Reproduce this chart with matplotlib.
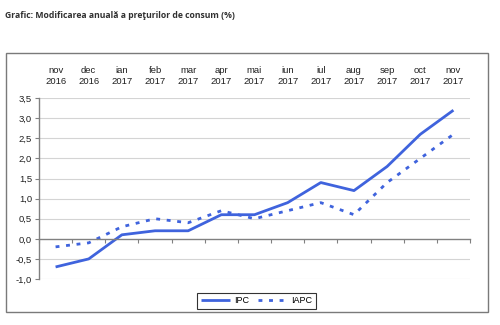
import matplotlib.pyplot as plt
import matplotlib.transforms as mtransforms
from matplotlib.patches import Rectangle

luni = ['nov\n2016', 'dec\n2016', 'ian\n2017', 'feb\n2017', 'mar\n2017', 'apr\n2017',
        'mai\n2017', 'iun\n2017', 'iul\n2017', 'aug\n2017', 'sep\n2017', 'oct\n2017', 'nov\n2017']
ipc = [-0.7, -0.5, 0.1, 0.2, 0.2, 0.6, 0.6, 0.9, 1.4, 1.2, 1.8, 2.6, 3.2]
iapc = [-0.2, -0.1, 0.3, 0.5, 0.4, 0.7, 0.5, 0.7, 0.9, 0.6, 1.4, 2.0, 2.6]
y_ticks = [-1.0, -0.5, 0.0, 0.5, 1.0, 1.5, 2.0, 2.5, 3.0, 3.5]

plt.rcParams['font.family'] = ['Liberation Sans', 'DejaVu Sans']
albastru = '#3f63dd'

fig = plt.figure(figsize=(5, 3.25), dpi=100)
fig.patch.set_facecolor('white')

# titlu deasupra cadrului
fig.text(0.010, 0.952, 'Grafic: Modificarea anuală a preţurilor de consum (%)',
         fontsize=6.2, fontweight='bold', family=['Open Sans', 'DejaVu Sans'],
         color='#303030', va='center', ha='left')

# cadrul exterior
fig.add_artist(Rectangle((0.012, 0.04), 0.964, 0.797, transform=fig.transFigure,
                         fill=False, edgecolor='#7a7a7a', linewidth=1.0))

ax = fig.add_axes([0.078, 0.1415, 0.862, 0.5565])
x = list(range(len(luni)))

ax.plot(x, ipc, color=albastru, linewidth=2.0, label='IPC', solid_capstyle='butt')
ax.plot(x, iapc, color=albastru, linewidth=2.0, linestyle=(0, (1.4, 2.4)),
        label='IAPC', dash_capstyle='butt')

ax.set_xlim(-0.5, len(luni) - 0.5)
ax.set_ylim(-1.0, 3.5)
ax.set_yticks(y_ticks)
ax.set_yticklabels([f'{v:.1f}'.replace('.', ',') for v in y_ticks], fontsize=6.8, color='#202020')
ax.set_xticks([i - 0.5 for i in range(len(luni) + 1)])
ax.set_xticklabels([])
ax.tick_params(axis='x', direction='out', length=3, width=0.8, color='#808080')
ax.tick_params(axis='y', direction='out', length=3, width=0.8, color='#808080', pad=2)

for v in y_ticks:
    if v != 0:
        ax.axhline(v, color='#d4d4d4', linewidth=0.8, zorder=0)

for s in ['top', 'right']:
    ax.spines[s].set_visible(False)
ax.spines['bottom'].set_position(('data', 0))
ax.spines['bottom'].set_color('#808080')
ax.spines['bottom'].set_linewidth(1.0)
ax.spines['left'].set_color('#808080')
ax.spines['left'].set_linewidth(1.0)

trans = mtransforms.blended_transform_factory(ax.transData, ax.transAxes)
for i, lab in enumerate(luni):
    ax.text(i, 1.12, lab, transform=trans, ha='center', va='center',
            fontsize=6.8, color='#202020', linespacing=1.3)

leg = fig.legend(loc='center', bbox_to_anchor=(0.513, 0.074), ncol=2, fontsize=6.5,
                 frameon=True, fancybox=False, edgecolor='black', handlelength=3.2,
                 columnspacing=0.9, handletextpad=0.5, borderpad=0.4)
leg.get_frame().set_linewidth(0.8)

fig.savefig('out.png', dpi=100)
